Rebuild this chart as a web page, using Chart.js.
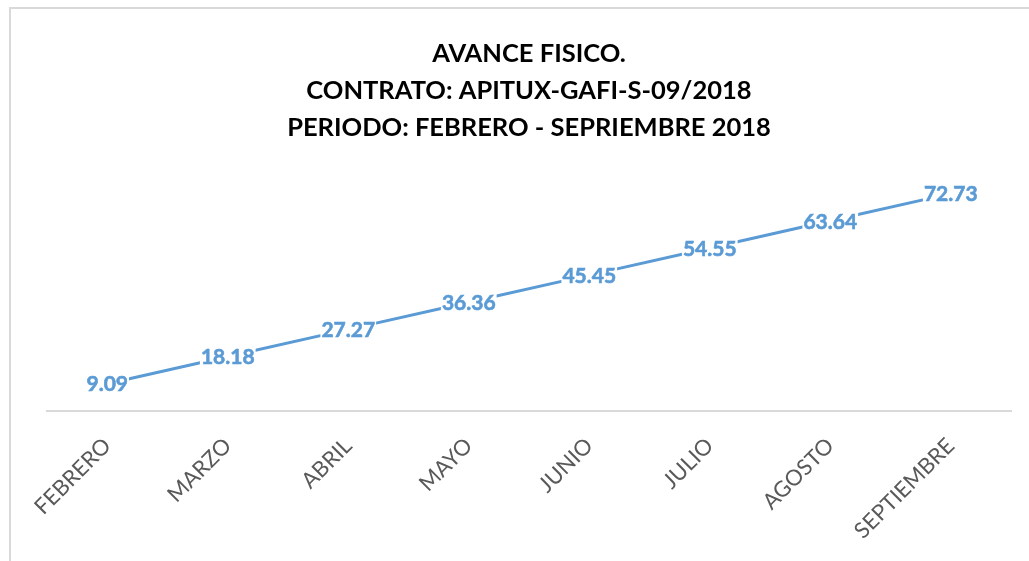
<!DOCTYPE html>
<html>
<head>
<meta charset="utf-8">
<script src="https://cdn.jsdelivr.net/npm/chart.js@4"></script>
<style>
  html, body { margin: 0; padding: 0; background: #fff; overflow: hidden; }
  #frame {
    position: absolute; left: 9px; top: 7px; width: 1020px; height: 554px;
    border-left: 2px solid #d9d9d9; border-top: 2px solid #d9d9d9;
  }
  #chart-avance { display: block; }
</style>
</head>
<body>
<div id="frame"><canvas id="chart-avance" width="1018" height="552"></canvas></div>
<script>
// ─── Avance fisico ───
const titleLines = ['AVANCE FISICO.', 'CONTRATO: APITUX-GAFI-S-09/2018', 'PERIODO: FEBRERO - SEPRIEMBRE 2018'];
const months = ['FEBRERO', 'MARZO', 'ABRIL', 'MAYO', 'JUNIO', 'JULIO', 'AGOSTO', 'SEPTIEMBRE'];
const avance = [9.09, 18.18, 27.27, 36.36, 45.45, 54.55, 63.64, 72.73];

const LINE_BLUE = '#5b9bd5';

// values drawn on top of each point, white box behind so the line is hidden
const pointLabels = {
  id: 'pointLabels',
  afterDatasetsDraw(chart) {
    const ctx = chart.ctx;
    const meta = chart.getDatasetMeta(0);
    ctx.save();
    ctx.font = 'bold 21px Lato';
    ctx.textAlign = 'center';
    ctx.textBaseline = 'middle';
    meta.data.forEach((pt, i) => {
      const txt = avance[i].toFixed(2);
      const w = ctx.measureText(txt).width;
      ctx.fillStyle = '#fff';
      ctx.fillRect(pt.x - w / 2 - 1, pt.y - 9, w + 2, 18);
      ctx.fillStyle = LINE_BLUE;
      ctx.fillText(txt, pt.x, pt.y + 1);
      ctx.lineWidth = 0.6;
      ctx.strokeStyle = LINE_BLUE;
      ctx.strokeText(txt, pt.x, pt.y + 1);
    });
    ctx.restore();
  }
};

new Chart(document.getElementById('chart-avance'), {
  type: 'line',
  data: {
    labels: months,
    datasets: [{
      label: 'Avance',
      data: avance,
      borderColor: LINE_BLUE,
      borderWidth: 3,
      pointRadius: 0,
      tension: 0,
      fill: false,
    }]
  },
  options: {
    responsive: false,
    animation: false,
    layout: { padding: { left: 36, right: 18, top: 0, bottom: 3 } },
    plugins: {
      legend: { display: false },
      tooltip: { enabled: false },
      title: {
        display: true,
        text: titleLines,
        color: '#000',
        font: { family: 'Lato', size: 25.5, weight: 'bold', lineHeight: 1.45 },
        padding: { top: 26, bottom: 26 }
      }
    },
    scales: {
      x: {
        offset: true,
        ticks: {
          color: '#595959', font: { family: 'Lato', size: 22 },
          minRotation: 45, maxRotation: 45, padding: 14
        },
        grid: { display: false },
        border: { color: '#d9d9d9', width: 2 }
      },
      y: {
        display: false,
        min: 0,
        max: 80
      }
    }
  },
  plugins: [pointLabels]
});
</script>
</body>
</html>
